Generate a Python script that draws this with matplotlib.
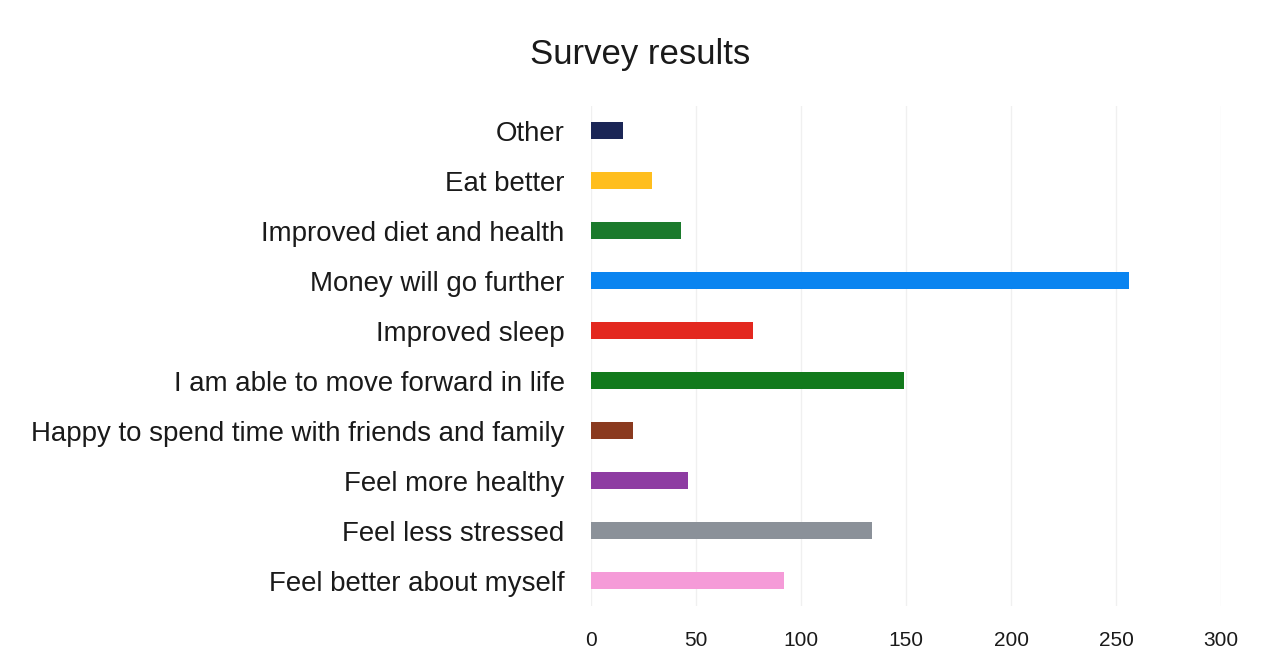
import matplotlib.pyplot as plt

plt.rcParams['font.family'] = ['Liberation Sans', 'DejaVu Sans']

# survey answers, top to bottom as shown
categories = [
    "Other",
    "Eat better",
    "Improved diet and health",
    "Money will go further",
    "Improved sleep",
    "I am able to move forward in life",
    "Happy to spend time with friends and family",
    "Feel more healthy",
    "Feel less stressed",
    "Feel better about myself",
]
counts = [15, 29, 43, 256, 77, 149, 20, 46, 134, 92]
colors = [
    "#1b2656", "#ffbe1e", "#1b7a2c", "#0a84f0", "#e3281f",
    "#127a1c", "#8a3a1f", "#8e3ca2", "#8b9199", "#f59bd8",
]
x_ticks = [0, 50, 100, 150, 200, 250, 300]

fig = plt.figure(figsize=(12.71, 6.6), dpi=100)
ax = fig.add_axes([0.465, 0.082, 0.4957, 0.7575])

ypos = list(range(len(categories)))
ax.barh(ypos, counts, height=0.34, color=colors, zorder=3)

ax.set_xlim(0, 300)
ax.set_ylim(len(categories) - 0.5, -0.5)
ax.set_xticks(x_ticks)
ax.set_yticks(ypos)
ax.set_yticklabels(categories, fontsize=19.9, color="#1a1a1a")
ax.tick_params(axis="y", length=0, pad=19)
ax.tick_params(axis="x", length=0, pad=18, labelsize=15, labelcolor="#1a1a1a")

ax.grid(axis="x", color="#f0f0f0", linewidth=1, zorder=0)
for s in ax.spines.values():
    s.set_visible(False)

fig.text(0.504, 0.918, "Survey results", ha="center", va="center",
         fontsize=25, color="#1a1a1a")

plt.savefig("out.png", dpi=100)
